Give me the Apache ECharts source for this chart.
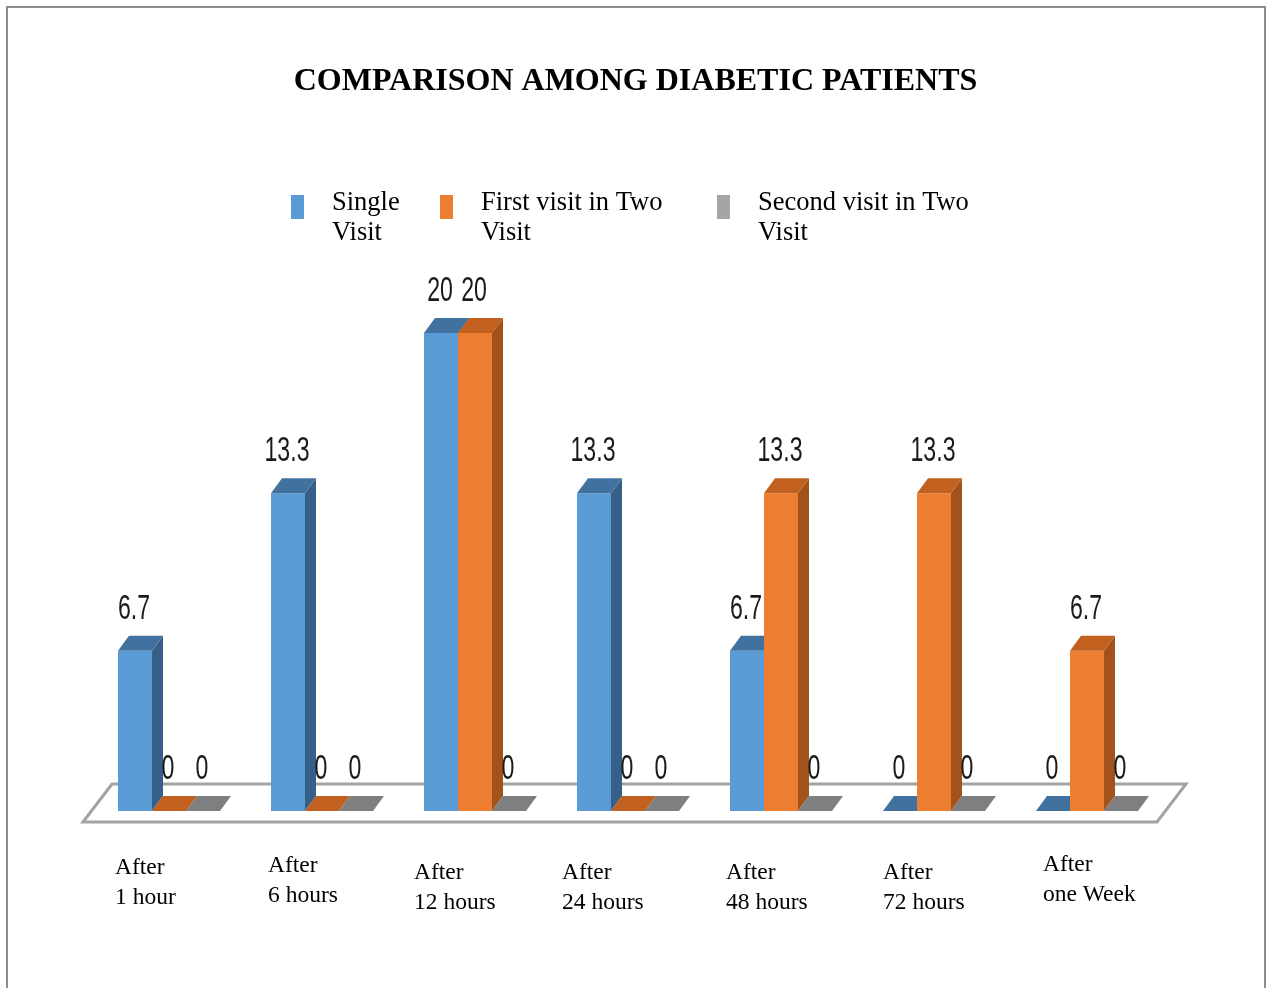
<!DOCTYPE html>
<html>
<head>
<meta charset="utf-8">
<script src="https://cdn.jsdelivr.net/npm/echarts@6/dist/echarts.min.js"></script>
<style>
  html, body { margin: 0; padding: 0; background: #ffffff; }
  #chart { width: 1271px; height: 988px; }
</style>
</head>
<body>
<div id="chart"></div>
<script>
// ---- data ----
const categories = ['After\n1 hour', 'After\n6 hours', 'After\n12 hours', 'After\n24 hours', 'After\n48 hours', 'After\n72 hours', 'After\none Week'];
const singleVisit = [6.7, 13.3, 20, 13.3, 6.7, 0, 0];
const firstVisitInTwo = [0, 0, 20, 0, 13.3, 13.3, 6.7];
const secondVisitInTwo = [0, 0, 0, 0, 0, 0, 0];
const seriesNames = ['Single Visit', 'First visit in Two Visit', 'Second visit in Two Visit'];
const legendLabels = [['Single', 'Visit'], ['First visit in Two', 'Visit'], ['Second visit in Two', 'Visit']];

// ---- look ----
const shades = [
  { front: '#5B9BD5', top: '#41729F', side: '#376088' },
  { front: '#ED7D31', top: '#C2601F', side: '#A1531B' },
  { front: '#A5A5A5', top: '#7F7F7F', side: '#6E6E6E' }
];
const DEPTH_X = 11, DEPTH_Y = 15;          // oblique offset of the bar tops/sides
const LABEL_RISE = 42;                     // value label centre above the bar's front top
// small per-category nudges for the two-line category captions [dx from centre, first-line centre below floor]
const captionNudge = [[-54, 57], [-54, 55], [-61, 62], [-66, 62], [-55, 62], [-51, 62], [-44, 54]];

const chart = echarts.init(document.getElementById('chart'), null, { renderer: 'canvas' });

function barRenderer(slot) {
  const c = shades[slot];
  return function (params, api) {
    const idx = api.value(0);
    const v = api.value(1);
    const base = api.coord([idx, 0]);
    const topPt = api.coord([idx, v]);
    const band = api.size([1, 0])[0];
    const w = band * 2 / 9;
    const x0 = base[0] - 1.5 * w + slot * w;
    const x1 = x0 + w;
    const yb = base[1], yt = topPt[1];
    const children = [];
    if (v > 0) {
      children.push({ type: 'rect', shape: { x: x0, y: yt, width: w, height: yb - yt }, style: { fill: c.front } });
      children.push({ type: 'polygon', shape: { points: [[x1, yt], [x1 + DEPTH_X, yt - DEPTH_Y], [x1 + DEPTH_X, yb - DEPTH_Y], [x1, yb]] }, style: { fill: c.side } });
    }
    children.push({ type: 'polygon', shape: { points: [[x0, yt], [x0 + DEPTH_X, yt - DEPTH_Y], [x1 + DEPTH_X, yt - DEPTH_Y], [x1, yt]] }, style: { fill: c.top } });
    children.push({
      type: 'text', x: (x0 + x1) / 2 - 1, y: yt - LABEL_RISE, scaleX: 0.66, z2: 10,
      style: {
        text: String(v), x: 0, y: 0, align: 'center', verticalAlign: 'middle',
        fontFamily: 'Liberation Sans', fontSize: 35, fill: '#1a1a1a'
      }
    });
    return { type: 'group', children: children };
  };
}

function floorRenderer(params) {
  const cs = params.coordSys;
  const left = cs.x, right = cs.x + cs.width, bottom = cs.y + cs.height;
  const fl = [left - 9.5, bottom + 11], fr = [right - 6.5, bottom + 11];
  const back = (p) => [p[0] + 29, p[1] - 38];
  return {
    type: 'polygon',
    shape: { points: [fl, back(fl), back(fr), fr] },
    style: { fill: '#ffffff', stroke: '#A3A3A3', lineWidth: 3 }
  };
}

function captionRenderer(params, api) {
  const idx = api.value(0);
  const p = api.coord([idx, 0]);
  const n = captionNudge[idx];
  return {
    type: 'text', x: p[0] + n[0], y: p[1] + n[1] - 15,
    style: {
      text: categories[idx], align: 'left', verticalAlign: 'top',
      fontFamily: 'Liberation Serif', fontSize: 23.5, lineHeight: 30, fill: '#000000'
    }
  };
}

const toPairs = (arr) => arr.map((v, i) => [i, v]);

function legendFor(i, left) {
  return {
    show: true, left: left, top: 172, padding: 0, orient: 'horizontal',
    data: [seriesNames[i]], icon: 'rect', itemWidth: 13, itemHeight: 24,
    selectedMode: false,
    // a short spacer line sits above the two caption lines so the swatch lines up with the first line
    formatter: () => '{s| }\n' + legendLabels[i].map((t) => '{t|' + t + '}').join('\n'),
    textStyle: {
      padding: [0, 0, 0, 23],
      rich: {
        s: { fontSize: 10, lineHeight: 22 },
        t: { fontFamily: 'Liberation Serif', fontSize: 26.5, lineHeight: 30, color: '#000000' }
      }
    }
  };
}

const option = {
  animation: false,
  backgroundColor: '#ffffff',
  title: {
    text: 'COMPARISON AMONG DIABETIC PATIENTS',
    left: 'center', top: 66, padding: 0,
    textStyle: { fontFamily: 'Liberation Serif', fontWeight: 'bold', fontSize: 32, color: '#000000' }
  },
  graphic: [{
    type: 'rect', z: -10, silent: true,
    shape: { x: 7, y: 7, width: 1258, height: 1100 },
    style: { fill: 'none', stroke: '#8C8C8C', lineWidth: 2 }
  }],
  legend: [legendFor(0, 291), legendFor(1, 440), legendFor(2, 717)],
  grid: { left: 92.5, right: 107.5, top: 213.5, bottom: 177, containLabel: false },
  xAxis: {
    type: 'category', data: categories,
    axisLine: { show: false }, axisTick: { show: false }, axisLabel: { show: false }, splitLine: { show: false }
  },
  yAxis: {
    type: 'value', min: 0, max: 25, show: false, splitLine: { show: false }
  },
  series: [
    { type: 'custom', name: 'floor', z: 1, silent: true, renderItem: floorRenderer, data: [[0, 0]] },
    { type: 'custom', name: seriesNames[0], z: 2, itemStyle: { color: shades[0].front }, renderItem: barRenderer(0), data: toPairs(singleVisit), encode: { x: 0, y: 1 } },
    { type: 'custom', name: seriesNames[1], z: 3, itemStyle: { color: shades[1].front }, renderItem: barRenderer(1), data: toPairs(firstVisitInTwo), encode: { x: 0, y: 1 } },
    { type: 'custom', name: seriesNames[2], z: 4, itemStyle: { color: shades[2].front }, renderItem: barRenderer(2), data: toPairs(secondVisitInTwo), encode: { x: 0, y: 1 } },
    { type: 'custom', name: 'captions', z: 5, silent: true, renderItem: captionRenderer, data: categories.map((c, i) => [i, 0]), encode: { x: 0, y: 1 } }
  ]
};

chart.setOption(option);
</script>
</body>
</html>
